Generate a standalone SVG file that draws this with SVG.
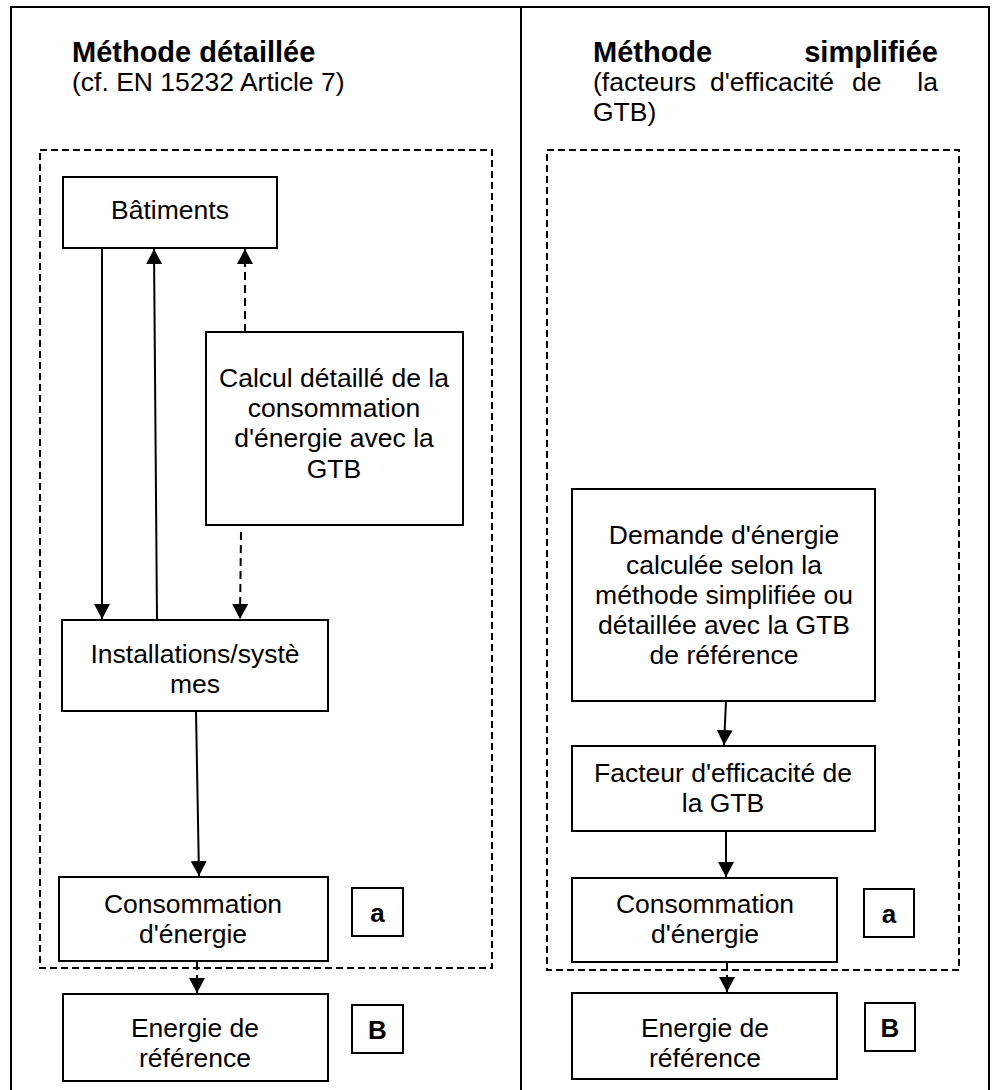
<svg xmlns="http://www.w3.org/2000/svg" width="993" height="1090" viewBox="0 0 993 1090">
  <style>
    .box { fill: #fff; stroke: #000; stroke-width: 2; }
    .frame { fill: none; stroke: #000; stroke-width: 2; }
    .zone { fill: none; stroke: #000; stroke-width: 2; stroke-dasharray: 7 4; }
    .t { font-family: "Liberation Sans", Arial, sans-serif; font-size: 26.5px; fill: #000; text-anchor: middle; }
    .title { font-family: "Liberation Sans", Arial, sans-serif; font-size: 29px; font-weight: bold; fill: #000; }
    .sub { font-family: "Liberation Sans", Arial, sans-serif; font-size: 26.5px; fill: #000; }
    .tag { font-family: "Liberation Sans", Arial, sans-serif; font-size: 26px; font-weight: bold; fill: #000; text-anchor: middle; }
    .line { fill: none; stroke: #000; stroke-width: 2; }
    .dash { fill: none; stroke: #000; stroke-width: 2; stroke-dasharray: 8 5; }
  </style>
  <defs>
    <marker id="arrow" markerUnits="userSpaceOnUse" markerWidth="16" markerHeight="16" viewBox="0 0 16 16" refX="15" refY="8" orient="auto">
      <path d="M0,0 L15,8 L0,16 Z" fill="#000"/>
    </marker>
  </defs>

  <rect width="993" height="1090" fill="#fff"/>

  <!-- outer frame and column divider -->
  <g id="frame">
    <rect class="frame" x="11" y="7" width="978" height="1100"/>
    <line class="frame" x1="521" y1="7" x2="521" y2="1090"/>
  </g>

  <!-- column headings -->
  <g id="heading-left">
    <text class="title" x="72" y="62">Méthode détaillée</text>
    <text class="sub" x="72" y="91">(cf. EN 15232 Article 7)</text>
  </g>
  <g id="heading-right">
    <text class="title" x="593" y="62">Méthode</text>
    <text class="title" x="938" y="62" text-anchor="end">simplifiée</text>
    <text class="sub" x="593" y="91">(facteurs</text>
    <text class="sub" x="710" y="91">d'efficacité</text>
    <text class="sub" x="852" y="91">de</text>
    <text class="sub" x="938" y="91" text-anchor="end">la</text>
    <text class="sub" x="593" y="121">GTB)</text>
  </g>

  <!-- dashed zones -->
  <g id="zone-left"><rect class="zone" x="40" y="150" width="452" height="818"/></g>
  <g id="zone-right"><rect class="zone" x="547" y="150" width="412" height="820"/></g>

  <!-- connectors -->
  <g id="connectors">
    <line class="line" x1="102" y1="248" x2="102" y2="619" marker-end="url(#arrow)"/>
    <line class="line" x1="157" y1="620" x2="154" y2="249" marker-end="url(#arrow)"/>
    <line class="dash" x1="245" y1="332" x2="245" y2="249" marker-end="url(#arrow)"/>
    <line class="dash" x1="241" y1="532" x2="240" y2="619" marker-end="url(#arrow)"/>
    <line class="line" x1="196" y1="711" x2="199" y2="876" marker-end="url(#arrow)"/>
    <line class="dash" x1="197" y1="962" x2="197" y2="993" marker-end="url(#arrow)"/>
    <line class="line" x1="726" y1="701" x2="724" y2="745" marker-end="url(#arrow)"/>
    <line class="line" x1="726" y1="831" x2="726" y2="877" marker-end="url(#arrow)"/>
    <line class="dash" x1="727" y1="962" x2="727" y2="992" marker-end="url(#arrow)"/>
  </g>

  <!-- left column nodes -->
  <g id="batiments">
    <rect class="box" x="63" y="177" width="214" height="71"/>
    <text class="t" x="170" y="219">Bâtiments</text>
  </g>
  <g id="calcul-detaille">
    <rect class="box" x="206" y="332" width="257" height="193"/>
    <text class="t" x="334" y="387">Calcul détaillé de la</text>
    <text class="t" x="334" y="417">consommation</text>
    <text class="t" x="334" y="447">d'énergie avec la</text>
    <text class="t" x="334" y="478">GTB</text>
  </g>
  <g id="installations">
    <rect class="box" x="62" y="620" width="266" height="91"/>
    <text class="t" x="195" y="663">Installations/systè</text>
    <text class="t" x="195" y="693">mes</text>
  </g>
  <g id="consommation-left">
    <rect class="box" x="59" y="877" width="269" height="84"/>
    <text class="t" x="193" y="913">Consommation</text>
    <text class="t" x="193" y="943">d'énergie</text>
  </g>
  <g id="tag-a-left">
    <rect class="box" x="352" y="888" width="51" height="48"/>
    <text class="tag" x="377.5" y="922">a</text>
  </g>
  <g id="energie-left">
    <rect class="box" x="63" y="994" width="265" height="87"/>
    <text class="t" x="195" y="1037">Energie de</text>
    <text class="t" x="195" y="1067">référence</text>
  </g>
  <g id="tag-b-left">
    <rect class="box" x="352" y="1005" width="51" height="48"/>
    <text class="tag" x="377.5" y="1039">B</text>
  </g>

  <!-- right column nodes -->
  <g id="demande">
    <rect class="box" x="572" y="489" width="303" height="212"/>
    <text class="t" x="724" y="544">Demande d'énergie</text>
    <text class="t" x="724" y="574">calculée selon la</text>
    <text class="t" x="724" y="604">méthode simplifiée ou</text>
    <text class="t" x="724" y="634">détaillée avec la GTB</text>
    <text class="t" x="724" y="664">de référence</text>
  </g>
  <g id="facteur">
    <rect class="box" x="572" y="746" width="303" height="85"/>
    <text class="t" x="723" y="782">Facteur d'efficacité de</text>
    <text class="t" x="723" y="812">la GTB</text>
  </g>
  <g id="consommation-right">
    <rect class="box" x="572" y="878" width="265" height="84"/>
    <text class="t" x="705" y="913">Consommation</text>
    <text class="t" x="705" y="943">d'énergie</text>
  </g>
  <g id="tag-a-right">
    <rect class="box" x="864" y="889" width="50" height="48"/>
    <text class="tag" x="889" y="923">a</text>
  </g>
  <g id="energie-right">
    <rect class="box" x="572" y="993" width="265" height="86"/>
    <text class="t" x="705" y="1037">Energie de</text>
    <text class="t" x="705" y="1067">référence</text>
  </g>
  <g id="tag-b-right">
    <rect class="box" x="865" y="1003" width="50" height="48"/>
    <text class="tag" x="890" y="1037">B</text>
  </g>
</svg>
